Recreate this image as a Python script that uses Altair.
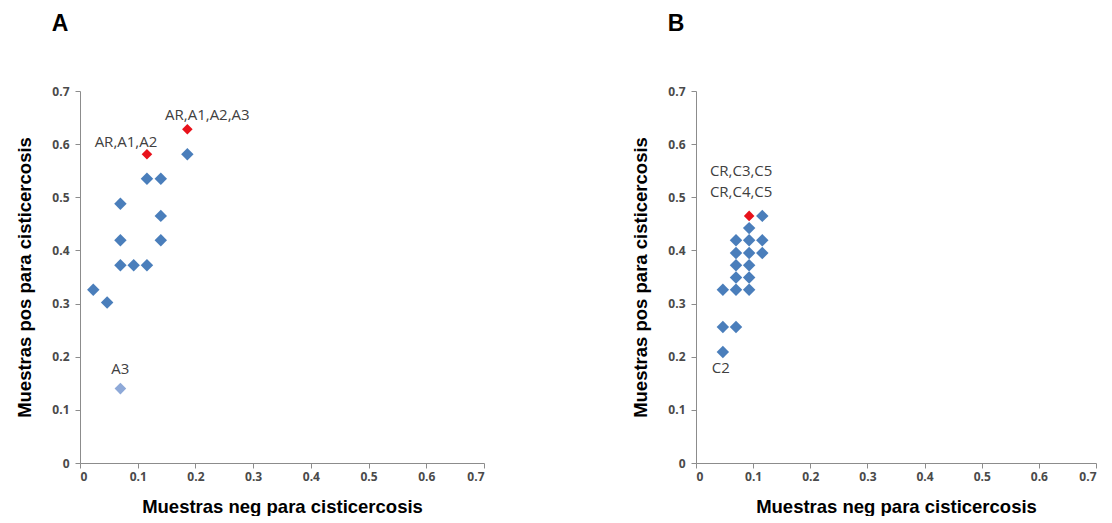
import altair as alt
import pandas as pd

# Panel A data
a_x = [0.023, 0.047, 0.070, 0.070, 0.070, 0.093, 0.116, 0.116, 0.140, 0.140, 0.140, 0.186, 0.116, 0.186, 0.070]
a_y = [0.326, 0.302, 0.488, 0.419, 0.372, 0.372, 0.372, 0.535, 0.535, 0.465, 0.419, 0.581, 0.581, 0.628, 0.140]
a_kind = ["azul"] * 12 + ["rojo", "rojo", "claro"]

# Panel B data
b_x = [0.047, 0.047, 0.070, 0.047, 0.070, 0.093, 0.070, 0.093, 0.070, 0.093,
       0.070, 0.093, 0.116, 0.070, 0.093, 0.116, 0.093, 0.116, 0.093]
b_y = [0.209, 0.256, 0.256, 0.326, 0.326, 0.326, 0.349, 0.349, 0.372, 0.372,
       0.395, 0.395, 0.395, 0.419, 0.419, 0.419, 0.442, 0.465, 0.465]
b_kind = ["azul"] * 18 + ["rojo"]

# Labels
a_lab_text = ["AR,A1,A2", "AR,A1,A2,A3", "A3"]
a_lab_x = [0.116, 0.186, 0.070]
a_lab_y = [0.581, 0.628, 0.140]
b_lab_text = ["CR,C3,C5", "CR,C4,C5", "C2"]
b_lab_x = [0.093, 0.093, 0.047]
b_lab_y = [0.465, 0.465, 0.209]

ticks = [0, 0.1, 0.2, 0.3, 0.4, 0.5, 0.6, 0.7]
x_title = "Muestras neg para cisticercosis"
y_title = "Muestras pos para cisticercosis"

label_offsets = {
    "AR,A1,A2": (-21, -12),
    "AR,A1,A2,A3": (20, -14),
    "A3": (0, -20),
    "CR,C3,C5": (-8, -45),
    "CR,C4,C5": (-8, -24),
    "C2": (-2, 16),
}

kind_style = {
    "azul": ("#4A7EBB", 155),
    "rojo": ("#E8121B", 112),
    "claro": ("#8EA9D8", 135),
}

H = 372
lab_expr = "datum.value == 0 ? '0' : format(datum.value, '.1f')"


def panel(xs, ys, kinds, ltext, lx, ly, title, width):
    pts = pd.DataFrame({"x": xs, "y": ys, "kind": kinds})
    labs = pd.DataFrame({"x": lx, "y": ly, "text": ltext})
    xenc = alt.X("x:Q", scale=alt.Scale(domain=[0, 0.7], nice=False, zero=True),
                 axis=alt.Axis(values=ticks, labelExpr=lab_expr, title=x_title))
    yenc = alt.Y("y:Q", scale=alt.Scale(domain=[0, 0.7], nice=False, zero=True),
                 axis=alt.Axis(values=ticks, labelExpr=lab_expr, title=y_title))
    layers = []
    for k in ["azul", "rojo", "claro"]:
        if k not in kinds:
            continue
        col, sz = kind_style[k]
        layers.append(
            alt.Chart(pts).transform_filter(alt.datum.kind == k).mark_point(
                shape="diamond", filled=True, opacity=1, strokeWidth=0, color=col, size=sz
            ).encode(x=xenc, y=yenc)
        )
    for t in ltext:
        dx, dy = label_offsets[t]
        layers.append(
            alt.Chart(labs).transform_filter(alt.datum.text == t).mark_text(
                dx=dx, dy=dy, font="Open Sans", fontSize=15, color="#404040"
            ).encode(x="x:Q", y="y:Q", text="text:N")
        )
    return alt.layer(*layers).properties(
        width=width, height=H,
        title=alt.TitleParams(title, anchor="start", dx=36, offset=49, fontSize=23,
                              font="Liberation Sans", fontWeight="bold", color="black"),
    )


pa = panel(a_x, a_y, a_kind, a_lab_text, a_lab_x, a_lab_y, "A", 404)
pb = panel(b_x, b_y, b_kind, b_lab_text, b_lab_x, b_lab_y, "B", 400)

chart = alt.hconcat(pa, pb, spacing=146).configure_view(
    stroke=None
).configure_axis(
    grid=False,
    domainColor="#8C8C8C",
    tickColor="#8C8C8C",
    tickSize=5,
    labelFont="Open Sans",
    labelFontSize=12,
    labelFontWeight="bold",
    labelColor="#4A4A4A",
    titleFont="Liberation Sans",
    titleFontSize=18.5,
    titleFontWeight="bold",
    titleColor="black",
).configure_axisY(titlePadding=17, labelPadding=6).configure_axisX(titlePadding=15, labelPadding=3).properties(
    padding={"left": 7, "top": 5, "right": 0, "bottom": 0}
)

chart.save("out.html", embed_options={"renderer": "svg", "actions": False})
